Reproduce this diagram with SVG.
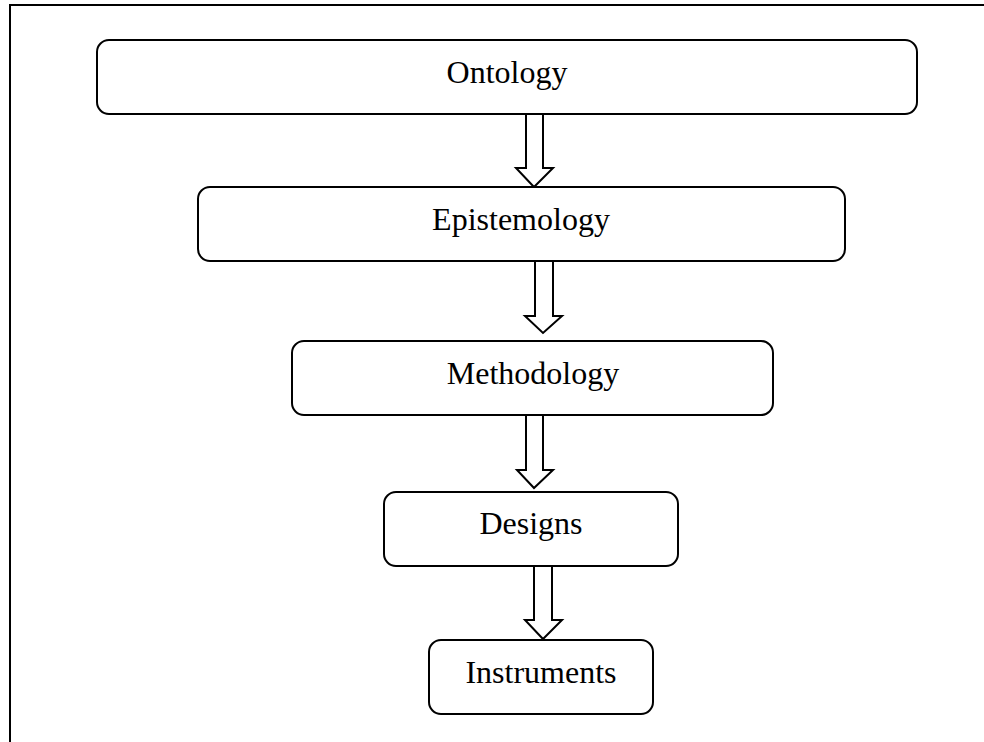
<svg xmlns="http://www.w3.org/2000/svg" width="984" height="742" viewBox="0 0 984 742">
  <style>
    .frame { fill: none; stroke: #000; stroke-width: 2; }
    .box { fill: #fff; stroke: #000; stroke-width: 2; }
    .arrow { fill: #fff; stroke: #000; stroke-width: 2; stroke-linejoin: miter; }
    .label { font-family: "Liberation Serif", "Times New Roman", serif; font-size: 32px; fill: #000; text-anchor: middle; }
  </style>
  <rect width="984" height="742" fill="#fff"/>
  <!-- outer page frame (open at right and bottom) -->
  <polyline class="frame" points="10,742 10,5 984,5"/>

  <!-- block arrows between levels -->
  <g id="connectors">
    <polygon class="arrow" points="526,114 543,114 543,168 553,168 534,187 516,168 526,168"/>
    <polygon class="arrow" points="535,261 553,261 553,316 562,316 543,333 525,316 535,316"/>
    <polygon class="arrow" points="526,415 543,415 543,470 553,470 534,488 517,470 526,470"/>
    <polygon class="arrow" points="534,566 552,566 552,620 562,620 543,639 525,620 534,620"/>
  </g>

  <g id="ontology">
    <rect class="box" x="97" y="40" width="820" height="74" rx="12" ry="12"/>
    <text class="label" x="507" y="83">Ontology</text>
  </g>
  <g id="epistemology">
    <rect class="box" x="198" y="187" width="647" height="74" rx="12" ry="12"/>
    <text class="label" x="521" y="230">Epistemology</text>
  </g>
  <g id="methodology">
    <rect class="box" x="292" y="341" width="481" height="74" rx="12" ry="12"/>
    <text class="label" x="533" y="384">Methodology</text>
  </g>
  <g id="designs">
    <rect class="box" x="384" y="492" width="294" height="74" rx="12" ry="12"/>
    <text class="label" x="531" y="534">Designs</text>
  </g>
  <g id="instruments">
    <rect class="box" x="429" y="640" width="224" height="74" rx="12" ry="12"/>
    <text class="label" x="541" y="683">Instruments</text>
  </g>
</svg>
